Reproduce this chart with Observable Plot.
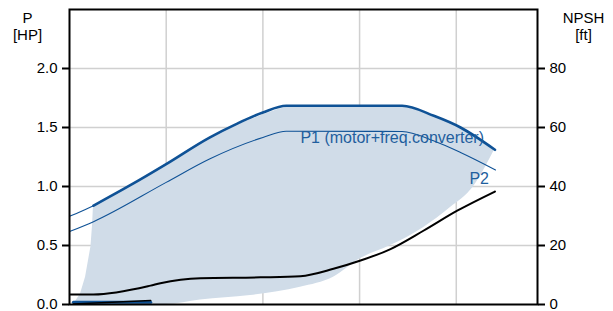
<!DOCTYPE html>
<html><head><meta charset="utf-8">
<script src="https://cdn.jsdelivr.net/npm/d3@7"></script>
<script src="https://cdn.jsdelivr.net/npm/@observablehq/plot@0.6"></script>
<style>body{margin:0;background:#fff;font-family:"Liberation Sans",Arial,sans-serif}</style>
</head><body><div id="chart"></div>
<script>
// Flow axis (unlabelled) gridlines
const gridFlow = [50, 100, 150, 200];
const hpTicks = [0, 0.5, 1.0, 1.5, 2.0];
const npshTicks = [0, 20, 40, 60, 80];

// P1 (motor + freq. converter), thick part
const p1Flow = [12.4, 31, 50, 72.4, 86.2, 100, 112.1, 172, 188.4, 202.2, 220];
const p1HP   = [0.838, 1.007, 1.190, 1.415, 1.529, 1.627, 1.684, 1.684, 1.599, 1.500, 1.311];
// P1 thin extension at low flow
const p1xFlow = [0, 6.2, 12.4];
const p1xHP   = [0.747, 0.791, 0.838];
// P2
const p2Flow = [0, 12.4, 50, 72.4, 100, 112.1, 172, 188.2, 202.2, 220.3];
const p2HP   = [0.618, 0.702, 1.035, 1.233, 1.415, 1.468, 1.466, 1.387, 1.288, 1.140];
// NPSH [ft]
const npshFlow = [0.5, 12.4, 41.9, 47, 67.7, 98.8, 119.4, 136.5, 150.5, 166, 183, 200.5, 220];
const npshFt   = [3.4, 3.4, 6.4, 7.2, 8.9, 9.2, 9.6, 12.1, 14.9, 18.8, 25.0, 31.8, 38.3];
// Operating range (shaded): left edge at minimum flow
const edgeFlow = [2.1, 5.7, 8.3, 11.1, 11.9, 12.4];
const edgeHP   = [0, 0.09, 0.23, 0.49, 0.668, 0.838];
// Operating range (shaded): main body
const shadeFlow = [12.4, 31, 50, 67.7, 93.6, 119.4, 136.5, 150.5, 166, 183, 197, 208.9, 219.8];
const shadeHi   = [0.838, 1.007, 1.190, 1.37, 1.565, 1.684, 1.684, 1.684, 1.684, 1.633, 1.537, 1.43, 1.311];
const shadeLo   = [0, 0, 0, 0.038, 0.076, 0.146, 0.231, 0.389, 0.499, 0.651, 0.821, 0.998, 1.311];
// Low-flow minimum lines
const minFlow = [2, 42];
const minBlueHP = [0.02, 0.02];
const minBlackHP = [0.004, 0.034];

const zip = (xs, ys) => xs.map((x, i) => ({x, y: ys[i]}));
const ftToHP = 2.5 / 100;
const shade = shadeFlow.map((x, i) => ({x, lo: shadeLo[i], hi: shadeHi[i]}));
const edge = edgeFlow.map((x, i) => ({x, lo: 0, hi: edgeHP[i]}));

const blue = "#0f5296";
const textBlue = "#1f5f9e";
const shadeFill = "#d0dce8";

const chart = Plot.plot({
  width: 613, height: 311,
  marginLeft: 69, marginRight: 76, marginTop: 9, marginBottom: 7,
  style: {fontFamily: '"Liberation Sans", Arial, sans-serif', background: "white"},
  x: {domain: [0, 242], axis: null},
  y: {domain: [0, 2.5], axis: null},
  marks: [
    Plot.ruleX(gridFlow, {stroke: "#d0d0d0", strokeWidth: 1.5}),
    Plot.ruleY(hpTicks.filter(d => d > 0), {stroke: "#d0d0d0", strokeWidth: 1.5}),
    Plot.areaY(edge, {x: "x", y1: "lo", y2: "hi", fill: shadeFill, curve: "linear"}),
    Plot.areaY(shade, {x: "x", y1: "lo", y2: "hi", fill: shadeFill, curve: "monotone-x"}),
    Plot.line(zip(p1xFlow, p1xHP), {x: "x", y: "y", stroke: blue, strokeWidth: 1.1, curve: "monotone-x"}),
    Plot.line(zip(p2Flow, p2HP), {x: "x", y: "y", stroke: blue, strokeWidth: 1.1, curve: "monotone-x"}),
    Plot.line(zip(p1Flow, p1HP), {x: "x", y: "y", stroke: blue, strokeWidth: 2.6, curve: "monotone-x"}),
    Plot.line(zip(npshFlow, npshFt), {x: "x", y: d => d.y * ftToHP, stroke: "black", strokeWidth: 2, curve: "monotone-x"}),
    Plot.line(zip(minFlow, minBlueHP), {x: "x", y: "y", stroke: blue, strokeWidth: 3}),
    Plot.line(zip(minFlow, minBlackHP), {x: "x", y: "y", stroke: "black", strokeWidth: 1.6}),
    Plot.frame({stroke: "black", strokeWidth: 2}),
    Plot.axisY({anchor: "left", ticks: hpTicks, tickFormat: d => d.toFixed(1), tickSize: 7, tickPadding: 5, fontSize: 15, strokeWidth: 2, label: null}),
    Plot.axisY({anchor: "right", ticks: npshTicks.map(d => d * ftToHP), tickFormat: d => String(Math.round(d / ftToHP)), tickSize: 7, tickPadding: 5, fontSize: 15, strokeWidth: 2, label: null}),
    Plot.text(["P1 (motor+freq.converter)"], {x: 119.4, y: 1.413, text: d => d, textAnchor: "start", fontSize: 16, fill: textBlue}),
    Plot.text(["P2"], {x: 206.8, y: 1.066, text: d => d, textAnchor: "start", fontSize: 16, fill: textBlue}),
    Plot.text(["P\n[HP]"], {frameAnchor: "top-left", dx: -42, dy: 1, text: d => d, textAnchor: "middle", lineAnchor: "top", lineHeight: 1.15, fontSize: 15, fill: "black"}),
    Plot.text(["NPSH\n[ft]"], {frameAnchor: "top-right", dx: 46, dy: 1, text: d => d, textAnchor: "middle", lineAnchor: "top", lineHeight: 1.15, fontSize: 15, fill: "black"})
  ]
});
document.getElementById("chart").appendChild(chart);
</script></body></html>
